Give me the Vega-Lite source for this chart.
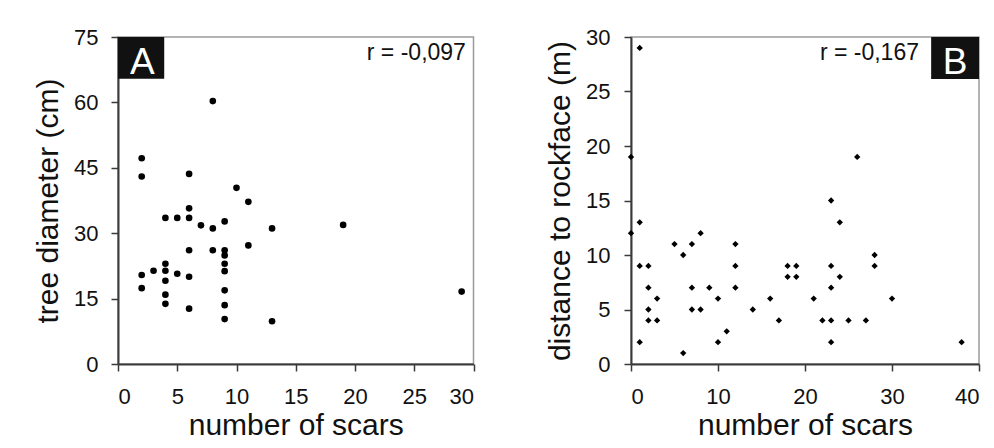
{
  "$schema": "https://vega.github.io/schema/vega-lite/v6.json",
  "background": "white",
  "padding": {"left": 32, "top": 25, "right": 5, "bottom": 5},
  "datasets": {
    "treeA": [
      {"scars": 2, "diameter": 47.2}, {"scars": 2, "diameter": 43.0}, {"scars": 2, "diameter": 20.4}, {"scars": 2, "diameter": 17.4},
      {"scars": 3, "diameter": 21.4},
      {"scars": 4, "diameter": 33.5}, {"scars": 4, "diameter": 23.0}, {"scars": 4, "diameter": 21.4}, {"scars": 4, "diameter": 19.1}, {"scars": 4, "diameter": 15.9}, {"scars": 4, "diameter": 13.8},
      {"scars": 5, "diameter": 33.5}, {"scars": 5, "diameter": 20.7},
      {"scars": 6, "diameter": 43.6}, {"scars": 6, "diameter": 35.7}, {"scars": 6, "diameter": 33.5}, {"scars": 6, "diameter": 26.1}, {"scars": 6, "diameter": 20.0}, {"scars": 6, "diameter": 12.7},
      {"scars": 7, "diameter": 31.8},
      {"scars": 8, "diameter": 60.3}, {"scars": 8, "diameter": 31.1}, {"scars": 8, "diameter": 26.1},
      {"scars": 9, "diameter": 32.7}, {"scars": 9, "diameter": 26.1}, {"scars": 9, "diameter": 24.9}, {"scars": 9, "diameter": 23.0}, {"scars": 9, "diameter": 21.3}, {"scars": 9, "diameter": 16.9}, {"scars": 9, "diameter": 13.5}, {"scars": 9, "diameter": 10.3},
      {"scars": 10, "diameter": 40.4},
      {"scars": 11, "diameter": 37.2}, {"scars": 11, "diameter": 27.2},
      {"scars": 13, "diameter": 31.1}, {"scars": 13, "diameter": 9.8},
      {"scars": 19, "diameter": 31.9},
      {"scars": 29, "diameter": 16.6}
    ],
    "rockB": [
      {"scars": 0, "distance": 19}, {"scars": 0, "distance": 12},
      {"scars": 1, "distance": 29}, {"scars": 1, "distance": 13}, {"scars": 1, "distance": 9}, {"scars": 1, "distance": 2},
      {"scars": 2, "distance": 9}, {"scars": 2, "distance": 7}, {"scars": 2, "distance": 5}, {"scars": 2, "distance": 4},
      {"scars": 3, "distance": 6}, {"scars": 3, "distance": 4},
      {"scars": 5, "distance": 11},
      {"scars": 6, "distance": 10}, {"scars": 6, "distance": 1},
      {"scars": 7, "distance": 11}, {"scars": 7, "distance": 7}, {"scars": 7, "distance": 5},
      {"scars": 8, "distance": 12}, {"scars": 8, "distance": 5},
      {"scars": 9, "distance": 7},
      {"scars": 10, "distance": 6}, {"scars": 10, "distance": 2},
      {"scars": 11, "distance": 3},
      {"scars": 12, "distance": 11}, {"scars": 12, "distance": 9}, {"scars": 12, "distance": 7},
      {"scars": 14, "distance": 5},
      {"scars": 16, "distance": 6},
      {"scars": 17, "distance": 4},
      {"scars": 18, "distance": 9}, {"scars": 18, "distance": 8},
      {"scars": 19, "distance": 9}, {"scars": 19, "distance": 8},
      {"scars": 21, "distance": 6},
      {"scars": 22, "distance": 4},
      {"scars": 23, "distance": 15}, {"scars": 23, "distance": 9}, {"scars": 23, "distance": 7}, {"scars": 23, "distance": 4}, {"scars": 23, "distance": 2},
      {"scars": 24, "distance": 13}, {"scars": 24, "distance": 8},
      {"scars": 25, "distance": 4},
      {"scars": 26, "distance": 19},
      {"scars": 27, "distance": 4},
      {"scars": 28, "distance": 10}, {"scars": 28, "distance": 9},
      {"scars": 30, "distance": 6},
      {"scars": 38, "distance": 2}
    ]
  },
  "hconcat": [
    {
      "width": 355.5,
      "height": 327,
      "layer": [
        {
          "data": {"name": "treeA"},
          "mark": {"type": "point", "shape": "circle", "filled": true, "size": 44, "color": "black", "opacity": 1},
          "encoding": {
            "x": {"field": "scars", "type": "quantitative", "scale": {"domain": [0, 30], "nice": false, "zero": false},
                  "axis": {"values": [0, 5, 10, 15, 20, 25, 30], "title": "number of scars"}},
            "y": {"field": "diameter", "type": "quantitative", "scale": {"domain": [0, 75], "nice": false},
                  "axis": {"values": [0, 15, 30, 45, 60, 75], "title": "tree diameter (cm)", "titlePadding": 10}}
          }
        },
        {
          "data": {"values": [{}]},
          "mark": {"type": "rect", "color": "#111111"},
          "encoding": {
            "x": {"datum": 0}, "x2": {"datum": 3.9},
            "y": {"datum": 75}, "y2": {"datum": 65.4}
          }
        },
        {
          "data": {"values": [{}]},
          "mark": {"type": "text", "text": "A", "color": "white", "fontSize": 37, "align": "center", "baseline": "alphabetic"},
          "encoding": {"x": {"datum": 2.06}, "y": {"datum": 66.6}}
        },
        {
          "data": {"values": [{}]},
          "mark": {"type": "text", "text": "r = -0,097", "color": "#111111", "fontSize": 23, "align": "right", "baseline": "alphabetic"},
          "encoding": {"x": {"datum": 29.36}, "y": {"datum": 69.7}}
        }
      ]
    },
    {
      "width": 348,
      "height": 327,
      "layer": [
        {
          "data": {"name": "rockB"},
          "mark": {"type": "point", "shape": "diamond", "filled": true, "size": 40, "color": "black", "opacity": 1},
          "encoding": {
            "x": {"field": "scars", "type": "quantitative", "scale": {"domain": [0, 40], "nice": false},
                  "axis": {"values": [0, 10, 20, 30, 40], "title": "number of scars"}},
            "y": {"field": "distance", "type": "quantitative", "scale": {"domain": [0, 30], "nice": false},
                  "axis": {"values": [0, 5, 10, 15, 20, 25, 30], "title": "distance to rockface (m)", "titlePadding": 10, "labelPadding": 14}}
          }
        },
        {
          "data": {"values": [{}]},
          "mark": {"type": "rect", "color": "#111111"},
          "encoding": {
            "x": {"datum": 34.5}, "x2": {"datum": 40},
            "y": {"datum": 30}, "y2": {"datum": 26.15}
          }
        },
        {
          "data": {"values": [{}]},
          "mark": {"type": "text", "text": "B", "color": "white", "fontSize": 37, "align": "center", "baseline": "alphabetic"},
          "encoding": {"x": {"datum": 37.24}, "y": {"datum": 26.65}}
        },
        {
          "data": {"values": [{}]},
          "mark": {"type": "text", "text": "r = -0,167", "color": "#111111", "fontSize": 23, "align": "right", "baseline": "alphabetic"},
          "encoding": {"x": {"datum": 33.1}, "y": {"datum": 27.9}}
        }
      ]
    }
  ],
  "spacing": 157,
  "bounds": "flush",
  "config": {
    "font": "Liberation Sans",
    "view": {"stroke": "#9a9a9a", "strokeWidth": 1.5},
    "axis": {
      "grid": false,
      "domainColor": "#3a3a3a",
      "domainWidth": 2,
      "tickColor": "#3a3a3a",
      "tickWidth": 1.5,
      "tickSize": 7,
      "labelFont": "Liberation Sans",
      "labelFontSize": 22,
      "labelColor": "#111111",
      "labelPadding": 13,
      "titleFont": "Liberation Sans",
      "titleFontSize": 30,
      "titleFontWeight": "normal",
      "titleColor": "#111111"
    },
    "axisX": {"labelPadding": 15, "titlePadding": 3},
    "axisY": {"labelPadding": 13}
  }
}
